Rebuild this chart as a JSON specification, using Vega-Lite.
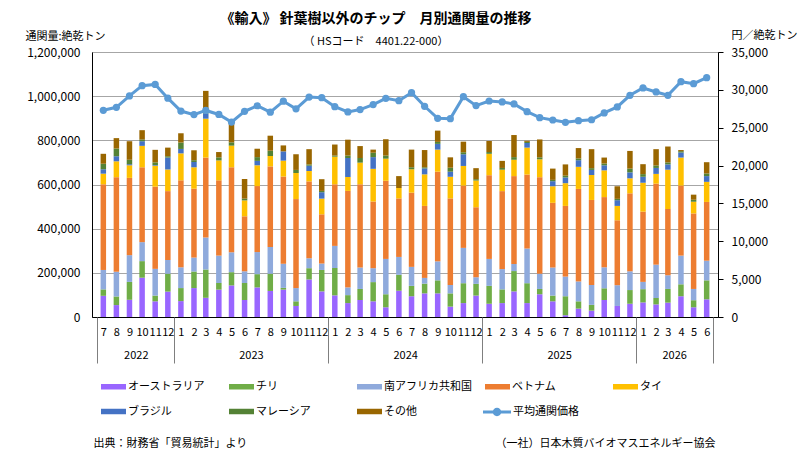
{
  "$schema": "https://vega.github.io/schema/vega-lite/v6.json",
  "description": "Monthly imports of non-coniferous wood chips by country, with average customs price",
  "width": 626,
  "height": 265,
  "autosize": {"type": "none"},
  "padding": {"left": 92, "top": 52, "right": 85, "bottom": 142},
  "background": "white",
  "title": {
    "text": "《輸入》 針葉樹以外のチップ　月別通関量の推移",
    "subtitle": "（ HSコード　4401.22-000）",
    "anchor": "middle",
    "frame": "group",
    "dx": -29,
    "fontSize": 14,
    "fontWeight": "bold",
    "color": "#000000",
    "subtitleFontSize": 11,
    "subtitleColor": "#000000",
    "subtitlePadding": 10,
    "offset": -18
  },
  "data": {
    "values": [
      {"month": "2022-07-01", "オーストラリア": 96000, "チリ": 29000, "南アフリカ共和国": 88000, "ベトナム": 388000, "タイ": 48000, "ブラジル": 20000, "マレーシア": 25000, "その他": 45000, "平均通関価格": 27300},
      {"month": "2022-08-01", "オーストラリア": 54000, "チリ": 39000, "南アフリカ共和国": 112000, "ベトナム": 428000, "タイ": 72000, "ブラジル": 23000, "マレーシア": 35000, "その他": 47000, "平均通関価格": 27700},
      {"month": "2022-09-01", "オーストラリア": 78000, "チリ": 81000, "南アフリカ共和国": 121000, "ベトナム": 350000, "タイ": 57000, "ブラジル": 5000, "マレーシア": 20000, "その他": 84000, "平均通関価格": 29200},
      {"month": "2022-10-01", "オーストラリア": 178000, "チリ": 75000, "南アフリカ共和国": 86000, "ベトナム": 339000, "タイ": 97000, "ブラジル": 21000, "マレーシア": 8000, "その他": 42000, "平均通関価格": 30550},
      {"month": "2022-11-01", "オーストラリア": 71000, "チリ": 26000, "南アフリカ共和国": 121000, "ベトナム": 372000, "タイ": 95000, "ブラジル": 3000, "マレーシア": 12000, "その他": 57000, "平均通関価格": 30720},
      {"month": "2022-12-01", "オーストラリア": 115000, "チリ": 81000, "南アフリカ共和国": 62000, "ベトナム": 312000, "タイ": 98000, "ブラジル": 54000, "マレーシア": 6000, "その他": 39000, "平均通関価格": 28900},
      {"month": "2023-01-01", "オーストラリア": 72000, "チリ": 59000, "南アフリカ共和国": 94000, "ベトナム": 394000, "タイ": 122000, "ブラジル": 20000, "マレーシア": 29000, "その他": 42000, "平均通関価格": 27200},
      {"month": "2023-02-01", "オーストラリア": 131000, "チリ": 75000, "南アフリカ共和国": 63000, "ベトナム": 312000, "タイ": 97000, "ブラジル": 24000, "マレーシア": 8000, "その他": 45000, "平均通関価格": 26730},
      {"month": "2023-03-01", "オーストラリア": 87000, "チリ": 128000, "南アフリカ共和国": 145000, "ベトナム": 362000, "タイ": 176000, "ブラジル": 23000, "マレーシア": 5000, "その他": 98000, "平均通関価格": 27280},
      {"month": "2023-04-01", "オーストラリア": 124000, "チリ": 30000, "南アフリカ共和国": 124000, "ベトナム": 341000, "タイ": 90000, "ブラジル": 0, "マレーシア": 14000, "その他": 24000, "平均通関価格": 26750},
      {"month": "2023-05-01", "オーストラリア": 143000, "チリ": 60000, "南アフリカ共和国": 90000, "ベトナム": 385000, "タイ": 98000, "ブラジル": 0, "マレーシア": 15000, "その他": 90000, "平均通関価格": 25740},
      {"month": "2023-06-01", "オーストラリア": 77000, "チリ": 77000, "南アフリカ共和国": 53000, "ベトナム": 249000, "タイ": 72000, "ブラジル": 0, "マレーシア": 8000, "その他": 89000, "平均通関価格": 27170},
      {"month": "2023-07-01", "オーストラリア": 134000, "チリ": 60000, "南アフリカ共和国": 100000, "ベトナム": 299000, "タイ": 94000, "ブラジル": 20000, "マレーシア": 17000, "その他": 38000, "平均通関価格": 27900},
      {"month": "2023-08-01", "オーストラリア": 118000, "チリ": 78000, "南アフリカ共和国": 121000, "ベトナム": 365000, "タイ": 47000, "ブラジル": 0, "マレーシア": 24000, "その他": 68000, "平均通関価格": 27050},
      {"month": "2023-09-01", "オーストラリア": 124000, "チリ": 8000, "南アフリカ共和国": 109000, "ベトナム": 395000, "タイ": 72000, "ブラジル": 42000, "マレーシア": 0, "その他": 27000, "平均通関価格": 28500},
      {"month": "2023-10-01", "オーストラリア": 50000, "チリ": 21000, "南アフリカ共和国": 60000, "ベトナム": 403000, "タイ": 118000, "ブラジル": 0, "マレーシア": 14000, "その他": 71000, "平均通関価格": 27500},
      {"month": "2023-11-01", "オーストラリア": 170000, "チリ": 51000, "南アフリカ共和国": 45000, "ベトナム": 348000, "タイ": 47000, "ブラジル": 24000, "マレーシア": 6000, "その他": 69000, "平均通関価格": 29050},
      {"month": "2023-12-01", "オーストラリア": 116000, "チリ": 97000, "南アフリカ共和国": 29000, "ベトナム": 223000, "タイ": 71000, "ブラジル": 29000, "マレーシア": 6000, "その他": 53000, "平均通関価格": 28970},
      {"month": "2024-01-01", "オーストラリア": 98000, "チリ": 124000, "南アフリカ共和国": 100000, "ベトナム": 279000, "タイ": 125000, "ブラジル": 0, "マレーシア": 5000, "その他": 50000, "平均通関価格": 27780},
      {"month": "2024-02-01", "オーストラリア": 63000, "チリ": 36000, "南アフリカ共和国": 35000, "ベトナム": 437000, "タイ": 63000, "ブラジル": 86000, "マレーシア": 11000, "その他": 72000, "平均通関価格": 27080},
      {"month": "2024-03-01", "オーストラリア": 77000, "チリ": 50000, "南アフリカ共和国": 97000, "ベトナム": 377000, "タイ": 98000, "ブラジル": 0, "マレーシア": 21000, "その他": 54000, "平均通関価格": 27400},
      {"month": "2024-04-01", "オーストラリア": 71000, "チリ": 87000, "南アフリカ共和国": 63000, "ベトナム": 302000, "タイ": 148000, "ブラジル": 53000, "マレーシア": 20000, "その他": 14000, "平均通関価格": 28050},
      {"month": "2024-05-01", "オーストラリア": 44000, "チリ": 59000, "南アフリカ共和国": 160000, "ベトナム": 354000, "タイ": 100000, "ブラジル": 0, "マレーシア": 14000, "その他": 74000, "平均通関価格": 28880},
      {"month": "2024-06-01", "オーストラリア": 119000, "チリ": 72000, "南アフリカ共和国": 81000, "ベトナム": 265000, "タイ": 47000, "ブラジル": 0, "マレーシア": 0, "その他": 54000, "平均通関価格": 28570},
      {"month": "2024-07-01", "オーストラリア": 94000, "チリ": 47000, "南アフリカ共和国": 86000, "ベトナム": 336000, "タイ": 106000, "ブラジル": 0, "マレーシア": 9000, "その他": 80000, "平均通関価格": 29630},
      {"month": "2024-08-01", "オーストラリア": 107000, "チリ": 44000, "南アフリカ共和国": 26000, "ベトナム": 326000, "タイ": 143000, "ブラジル": 27000, "マレーシア": 5000, "その他": 78000, "平均通関価格": 27830},
      {"month": "2024-09-01", "オーストラリア": 107000, "チリ": 59000, "南アフリカ共和国": 86000, "ベトナム": 406000, "タイ": 100000, "ブラジル": 26000, "マレーシア": 9000, "その他": 51000, "平均通関価格": 26240},
      {"month": "2024-10-01", "オーストラリア": 47000, "チリ": 60000, "南アフリカ共和国": 38000, "ベトナム": 392000, "タイ": 98000, "ブラジル": 23000, "マレーシア": 18000, "その他": 47000, "平均通関価格": 26200},
      {"month": "2024-11-01", "オーストラリア": 63000, "チリ": 90000, "南アフリカ共和国": 160000, "ベトナム": 282000, "タイ": 89000, "ブラジル": 53000, "マレーシア": 9000, "その他": 48000, "平均通関価格": 29100},
      {"month": "2024-12-01", "オーストラリア": 97000, "チリ": 53000, "南アフリカ共和国": 30000, "ベトナム": 317000, "タイ": 121000, "ブラジル": 0, "マレーシア": 6000, "その他": 50000, "平均通関価格": 27920},
      {"month": "2025-01-01", "オーストラリア": 60000, "チリ": 81000, "南アフリカ共和国": 122000, "ベトナム": 379000, "タイ": 97000, "ブラジル": 0, "マレーシア": 8000, "その他": 50000, "平均通関価格": 28530},
      {"month": "2025-02-01", "オーストラリア": 63000, "チリ": 62000, "南アフリカ共和国": 92000, "ベトナム": 353000, "タイ": 97000, "ブラジル": 0, "マレーシア": 8000, "その他": 32000, "平均通関価格": 28400},
      {"month": "2025-03-01", "オーストラリア": 116000, "チリ": 92000, "南アフリカ共和国": 32000, "ベトナム": 398000, "タイ": 74000, "ブラジル": 0, "マレーシア": 12000, "その他": 100000, "平均通関価格": 28140},
      {"month": "2025-04-01", "オーストラリア": 63000, "チリ": 90000, "南アフリカ共和国": 157000, "ベトナム": 335000, "タイ": 122000, "ブラジル": 21000, "マレーシア": 5000, "その他": 5000, "平均通関価格": 27120},
      {"month": "2025-05-01", "オーストラリア": 103000, "チリ": 24000, "南アフリカ共和国": 69000, "ベトナム": 437000, "タイ": 81000, "ブラジル": 0, "マレーシア": 9000, "その他": 81000, "平均通関価格": 26330},
      {"month": "2025-06-01", "オーストラリア": 71000, "チリ": 26000, "南アフリカ共和国": 127000, "ベトナム": 293000, "タイ": 75000, "ブラジル": 23000, "マレーシア": 6000, "その他": 51000, "平均通関価格": 26020},
      {"month": "2025-07-01", "オーストラリア": 8000, "チリ": 86000, "南アフリカ共和国": 89000, "ベトナム": 320000, "タイ": 103000, "ブラジル": 26000, "マレーシア": 8000, "その他": 51000, "平均通関価格": 25710},
      {"month": "2025-08-01", "オーストラリア": 38000, "チリ": 33000, "南アフリカ共和国": 90000, "ベトナム": 419000, "タイ": 100000, "ブラジル": 30000, "マレーシア": 8000, "その他": 47000, "平均通関価格": 25930},
      {"month": "2025-09-01", "オーストラリア": 29000, "チリ": 26000, "南アフリカ共和国": 90000, "ベトナム": 385000, "タイ": 113000, "ブラジル": 23000, "マレーシア": 8000, "その他": 86000, "平均通関価格": 26050},
      {"month": "2025-10-01", "オーストラリア": 77000, "チリ": 53000, "南アフリカ共和国": 95000, "ベトナム": 318000, "タイ": 121000, "ブラジル": 23000, "マレーシア": 8000, "その他": 27000, "平均通関価格": 26950},
      {"month": "2025-11-01", "オーストラリア": 50000, "チリ": 0, "南アフリカ共和国": 94000, "ベトナム": 294000, "タイ": 65000, "ブラジル": 26000, "マレーシア": 6000, "その他": 57000, "平均通関価格": 27740},
      {"month": "2025-12-01", "オーストラリア": 60000, "チリ": 62000, "南アフリカ共和国": 85000, "ベトナム": 353000, "タイ": 68000, "ブラジル": 27000, "マレーシア": 17000, "その他": 80000, "平均通関価格": 29280},
      {"month": "2026-01-01", "オーストラリア": 66000, "チリ": 60000, "南アフリカ共和国": 33000, "ベトナム": 318000, "タイ": 131000, "ブラジル": 27000, "マレーシア": 12000, "その他": 45000, "平均通関価格": 30250},
      {"month": "2026-02-01", "オーストラリア": 57000, "チリ": 29000, "南アフリカ共和国": 151000, "ベトナム": 367000, "タイ": 44000, "ブラジル": 27000, "マレーシア": 11000, "その他": 74000, "平均通関価格": 29720},
      {"month": "2026-03-01", "オーストラリア": 65000, "チリ": 62000, "南アフリカ共和国": 62000, "ベトナム": 300000, "タイ": 178000, "ブラジル": 24000, "マレーシア": 9000, "その他": 72000, "平均通関価格": 29280},
      {"month": "2026-04-01", "オーストラリア": 94000, "チリ": 54000, "南アフリカ共和国": 130000, "ベトナム": 317000, "タイ": 127000, "ブラジル": 23000, "マレーシア": 6000, "その他": 5000, "平均通関価格": 31080},
      {"month": "2026-05-01", "オーストラリア": 44000, "チリ": 32000, "南アフリカ共和国": 51000, "ベトナム": 342000, "タイ": 53000, "ブラジル": 0, "マレーシア": 9000, "その他": 23000, "平均通関価格": 30820},
      {"month": "2026-06-01", "オーストラリア": 80000, "チリ": 86000, "南アフリカ共和国": 89000, "ベトナム": 266000, "タイ": 91000, "ブラジル": 26000, "マレーシア": 12000, "その他": 51000, "平均通関価格": 31610}
    ]
  },
  "layer": [
    {
      "transform": [
        {"fold": ["オーストラリア", "チリ", "南アフリカ共和国", "ベトナム", "タイ", "ブラジル", "マレーシア", "その他"], "as": ["country", "tons"]},
        {"calculate": "indexof(['オーストラリア', 'チリ', '南アフリカ共和国', 'ベトナム', 'タイ', 'ブラジル', 'マレーシア', 'その他'], datum.country)", "as": "stackOrder"}
      ],
      "mark": {"type": "bar", "width": 5.5},
      "encoding": {
        "x": {
          "field": "month",
          "type": "temporal",
          "scale": {
            "type": "utc",
            "domain": [
              {"year": 2022, "month": 6, "date": 16, "utc": true},
              {"year": 2026, "month": 6, "date": 16, "utc": true}
            ]
          },
          "axis": {
            "orient": "bottom",
            "title": null,
            "labelExpr": "utcFormat(datum.value, '%-m')",
            "tickCount": {"interval": "month", "step": 1},
            "labelOverlap": false,
            "labelFlush": false,
            "labelBound": false,
            "ticks": false,
            "grid": false,
            "domainColor": "#000000",
            "labelPadding": 9,
            "labelFontSize": 11
          }
        },
        "y": {
          "field": "tons",
          "type": "quantitative",
          "stack": "zero",
          "scale": {"domain": [0, 1200000]},
          "axis": {
            "orient": "left",
            "title": "通関量:絶乾トン",
            "titleAngle": 0,
            "titleX": -67,
            "titleY": -16,
            "titleAlign": "left",
            "titleBaseline": "middle",
            "values": [0, 200000, 400000, 600000, 800000, 1000000, 1200000],
            "labelExpr": "format(datum.value, ',')",
            "ticks": false,
            "labelPadding": 12,
            "labelFontSize": 12,
            "grid": true,
            "gridColor": "#a6a6a6",
            "domainColor": "#000000"
          }
        },
        "color": {
          "field": "country",
          "type": "nominal",
          "scale": {
            "domain": ["オーストラリア", "チリ", "南アフリカ共和国", "ベトナム", "タイ", "ブラジル", "マレーシア", "その他"],
            "range": ["#9966ff", "#70ad47", "#8faadc", "#ed7d31", "#ffc000", "#4472c4", "#548235", "#996600"]
          },
          "legend": {
            "orient": "none",
            "direction": "horizontal",
            "legendX": 9,
            "legendY": 322,
            "title": null,
            "columns": 5,
            "gridAlign": "all",
            "columnPadding": 13,
            "rowPadding": 7,
            "padding": 0,
            "symbolType": "M-1,-0.22H1V0.22H-1Z",
            "symbolSize": 625,
            "symbolStrokeWidth": 0,
            "labelOffset": 2,
            "labelFontSize": 11
          }
        },
        "order": {"field": "stackOrder", "type": "quantitative"}
      }
    },
    {
      "mark": {"type": "line", "color": "#5b9bd5", "strokeWidth": 3},
      "encoding": {
        "x": {
          "field": "month",
          "type": "temporal",
          "scale": {"type": "utc"},
          "axis": {
            "orient": "bottom",
            "title": "（一社）日本木質バイオマスエネルギー協会",
            "titleX": 403,
            "titleY": 126,
            "titleAlign": "left",
            "titleBaseline": "middle",
            "values": [
              {"year": 2022, "month": 9, "date": 16, "utc": true},
              {"year": 2023, "month": 6, "date": 16, "utc": true},
              {"year": 2024, "month": 6, "date": 16, "utc": true},
              {"year": 2025, "month": 6, "date": 16, "utc": true},
              {"year": 2026, "month": 3, "date": 16, "utc": true}
            ],
            "labelExpr": "utcFormat(datum.value, '%Y')",
            "labelOverlap": false,
            "labelFlush": false,
            "ticks": false,
            "domain": false,
            "grid": false,
            "labelPadding": 32,
            "labelFontSize": 11
          }
        },
        "y": {
          "field": "平均通関価格",
          "type": "quantitative",
          "scale": {"domain": [0, 35000]},
          "axis": {
            "orient": "right",
            "title": "円／絶乾トン",
            "titleAngle": 0,
            "titleX": 13,
            "titleY": -17,
            "titleAlign": "left",
            "titleBaseline": "middle",
            "values": [0, 5000, 10000, 15000, 20000, 25000, 30000, 35000],
            "labelExpr": "format(datum.value, ',')",
            "tickSize": 5,
            "tickColor": "#000000",
            "domainColor": "#000000",
            "labelPadding": 8,
            "labelFontSize": 12,
            "grid": false
          }
        }
      }
    },
    {
      "mark": {"type": "circle", "size": 52, "opacity": 1},
      "encoding": {
        "x": {
          "field": "month",
          "type": "temporal",
          "scale": {"type": "utc"},
          "axis": {
            "orient": "bottom",
            "title": "出典：財務省「貿易統計」より",
            "titleX": 1,
            "titleY": 126,
            "titleAlign": "left",
            "titleBaseline": "middle",
            "values": [
              {"year": 2022, "month": 6, "date": 16, "utc": true},
              {"year": 2022, "month": 12, "date": 16, "utc": true},
              {"year": 2023, "month": 12, "date": 16, "utc": true},
              {"year": 2024, "month": 12, "date": 16, "utc": true},
              {"year": 2025, "month": 12, "date": 16, "utc": true},
              {"year": 2026, "month": 6, "date": 16, "utc": true}
            ],
            "labels": false,
            "domain": false,
            "grid": false,
            "ticks": true,
            "tickSize": 46,
            "tickColor": "#7f7f7f",
            "tickWidth": 1
          }
        },
        "y": {
          "field": "平均通関価格",
          "type": "quantitative",
          "scale": {"domain": [0, 35000]},
          "axis": null
        },
        "fill": {
          "datum": "平均通関価格",
          "scale": {"range": ["#5b9bd5"]},
          "legend": {
            "orient": "none",
            "legendX": 391,
            "legendY": 346,
            "title": null,
            "padding": 0,
            "symbolType": "M-1,-0.1H1V0.1H-1ZM-0.3,0A0.3,0.3,0,1,1,0.3,0A0.3,0.3,0,1,1,-0.3,0Z",
            "symbolSize": 784,
            "symbolStrokeWidth": 0,
            "labelOffset": 2,
            "labelFontSize": 11
          }
        }
      }
    }
  ],
  "resolve": {"scale": {"y": "independent"}, "axis": {"x": "independent"}},
  "config": {
    "font": "Noto Sans CJK JP",
    "view": {"stroke": "#7f7f7f"},
    "axis": {
      "labelColor": "#000000",
      "titleColor": "#000000",
      "titleFontSize": 11,
      "titleFontWeight": "normal"
    },
    "legend": {"labelColor": "#000000"}
  }
}
